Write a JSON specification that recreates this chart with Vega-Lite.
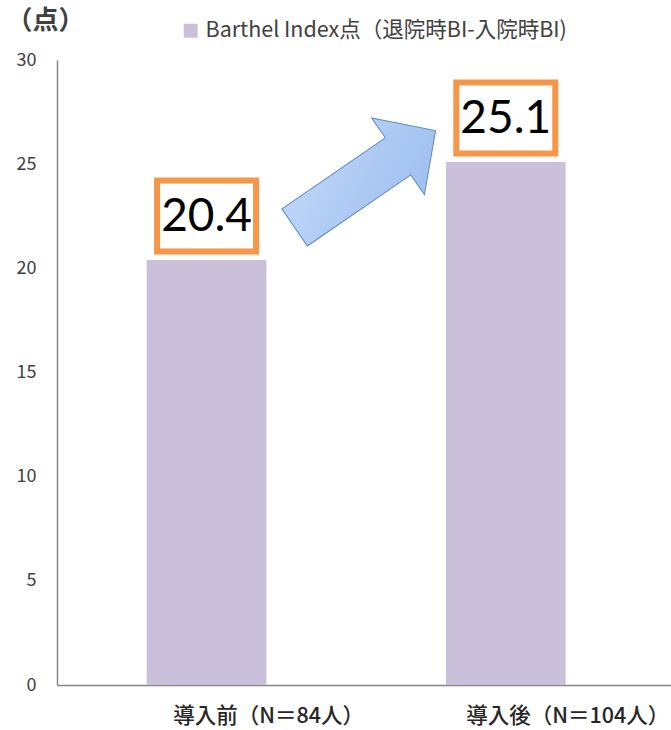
{
  "$schema": "https://vega.github.io/schema/vega-lite/v6.json",
  "width": 614,
  "height": 625,
  "autosize": {"type": "none"},
  "padding": {"left": 57, "top": 60, "right": 0, "bottom": 45},
  "background": "white",
  "config": {"view": {"stroke": null}, "font": "Noto Sans CJK JP"},
  "data": {
    "values": [
      {"group": "導入前（N＝84人）", "bi": 20.4},
      {"group": "導入後（N＝104人）", "bi": 25.1}
    ]
  },
  "encoding": {
    "x": {
      "field": "group",
      "type": "nominal",
      "sort": null,
      "scale": {"paddingInner": 0.6, "paddingOuter": 0.326, "align": 0.46},
      "axis": {
        "title": null,
        "labelAngle": 0,
        "ticks": false,
        "domainColor": "#868686",
        "domainWidth": 1.5,
        "labelFontSize": 21.5,
        "labelFontWeight": 500,
        "labelColor": "#262626",
        "labelPadding": 20,
        "labelOffset": 62,
        "labelLimit": 0
      }
    },
    "y": {
      "field": "bi",
      "type": "quantitative",
      "scale": {"domain": [0, 30]},
      "axis": {
        "values": [0, 5, 10, 15, 20, 25, 30],
        "grid": false,
        "ticks": false,
        "domainColor": "#868686",
        "domainWidth": 1.5,
        "labelFontSize": 18,
        "labelColor": "#404040",
        "labelPadding": 21,
        "title": "（点）",
        "titleAngle": 0,
        "titleX": -12,
        "titleY": -40,
        "titleAlign": "center",
        "titleBaseline": "middle",
        "titleFontSize": 26,
        "titleFontWeight": "bold",
        "titleColor": "#404040"
      }
    }
  },
  "layer": [
    {
      "mark": {"type": "bar", "color": "#CBC0DA"},
      "encoding": {
        "color": {
          "datum": "Barthel Index点（退院時BI-入院時BI)",
          "scale": {"range": ["#CBC0DA"]},
          "legend": {
            "orient": "none",
            "legendX": 123,
            "legendY": -40,
            "title": null,
            "symbolType": "square",
            "symbolSize": 196,
            "symbolStrokeWidth": 0,
            "labelFontSize": 21.5,
            "labelColor": "#404040",
            "labelLimit": 0
          }
        }
      }
    },
    {
      "mark": {
        "type": "point",
        "shape": "M-1,-0.717H1V0.717H-1Z",
        "size": 9801,
        "filled": true,
        "fill": "white",
        "fillOpacity": 1,
        "stroke": "#F79646",
        "strokeOpacity": 1,
        "strokeWidth": 6,
        "opacity": 1,
        "yOffset": -44
      }
    },
    {
      "mark": {
        "type": "text",
        "font": "Lato",
        "fontSize": 46,
        "color": "black",
        "baseline": "middle",
        "align": "center",
        "yOffset": -43
      },
      "encoding": {"text": {"field": "bi", "type": "quantitative", "format": ".1f"}}
    },
    {
      "transform": [{"filter": "datum.bi < 22"}],
      "mark": {
        "type": "point",
        "shape": "M-1,-0.263H0.468V-0.545L1,0L0.468,0.545V0.263H-1Z",
        "size": 29241,
        "angle": -34.5,
        "filled": true,
        "fill": {
          "gradient": "linear",
          "x1": 0, "y1": 0, "x2": 1, "y2": 1,
          "stops": [
            {"offset": 0, "color": "#c3d8f7"},
            {"offset": 1, "color": "#99bcf0"}
          ]
        },
        "fillOpacity": 1,
        "stroke": "#5b88c8",
        "strokeOpacity": 1,
        "strokeWidth": 1,
        "opacity": 1,
        "xOffset": 158.5,
        "yOffset": -81
      }
    }
  ]
}
